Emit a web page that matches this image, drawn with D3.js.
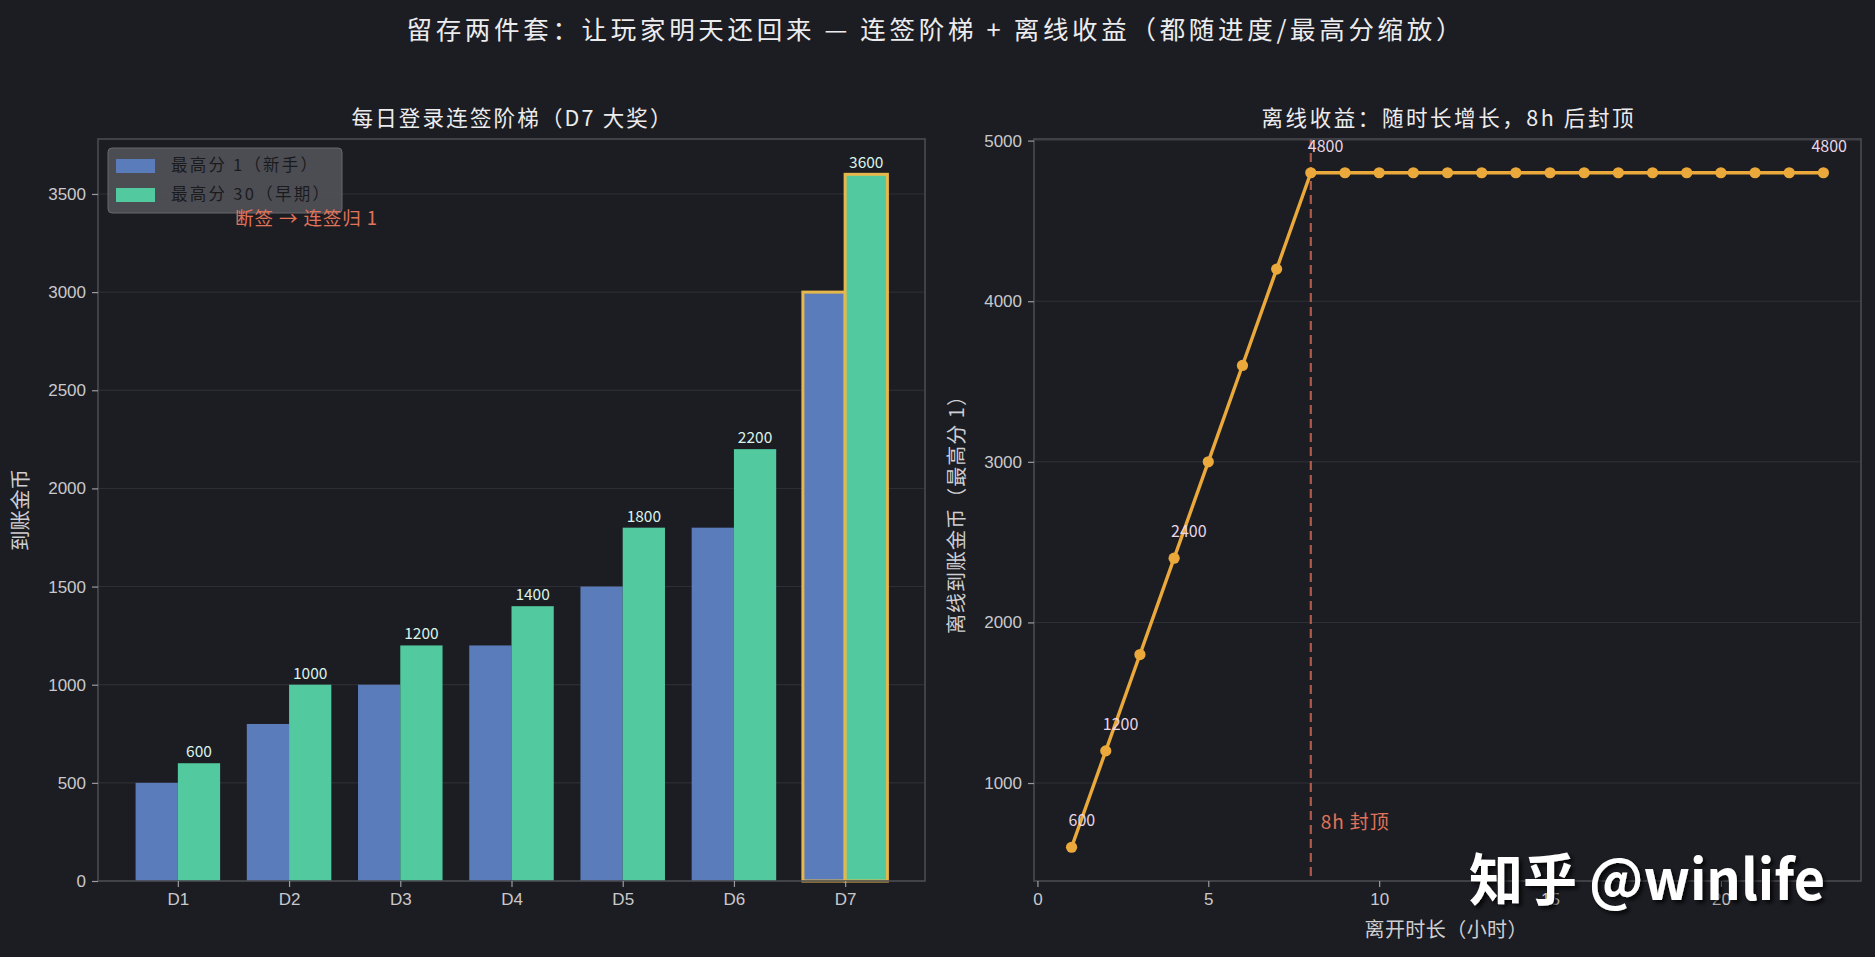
<!DOCTYPE html>
<html>
<head>
<meta charset="utf-8">
<script src="https://cdn.jsdelivr.net/npm/d3@7"></script>
<style>
  html, body { margin: 0; padding: 0; background: #1c1d23; }
  svg { display: block; font-family: "Noto Sans CJK SC", "Noto Sans", sans-serif; }
</style>
</head>
<body>
<script>
// data
const days = ["D1", "D2", "D3", "D4", "D5", "D6", "D7"];
const seriesNames = ["最高分 1（新手）", "最高分 30（早期）"];
const rewardNewbie = [500, 800, 1000, 1200, 1500, 1800, 3000];
const rewardEarly = [600, 1000, 1200, 1400, 1800, 2200, 3600];
const barTicks = [0, 500, 1000, 1500, 2000, 2500, 3000, 3500];

const hours = [1, 2, 3, 4, 5, 6, 7, 8, 9, 10, 11, 12, 13, 14, 15, 16, 17, 18, 19, 20, 21, 22, 23];
const offlineCoins = [600, 1200, 1800, 2400, 3000, 3600, 4200, 4800, 4800, 4800, 4800, 4800,
  4800, 4800, 4800, 4800, 4800, 4800, 4800, 4800, 4800, 4800, 4800];
const labeledHours = [1, 2, 4, 8, 23];
const capHour = 8;
const hourTicks = [0, 5, 10, 15, 20];
const coinTicks = [1000, 2000, 3000, 4000, 5000];

const width = 1875;
const height = 957;
const bg = "#1c1d23";
const gridColor = "#303138";
const spineColor = "#4a4b51";
const tickColor = "#c9c9cc";
const labelColor = "#cfcfd2";
const blue = "#5b7cba";
const green = "#52c99e";
const gold = "#e6b84c";
const orange = "#eaa93a";
const coral = "#e0735a";

const svg = d3.select("body").append("svg")
  .attr("width", width)
  .attr("height", height);

svg.append("rect").attr("width", width).attr("height", height).attr("fill", bg);

const defs = svg.append("defs");
defs.append("filter").attr("id", "shadow")
  .attr("x", "-10%").attr("y", "-20%").attr("width", "130%").attr("height", "150%")
  .append("feDropShadow")
  .attr("dx", 3).attr("dy", 3).attr("stdDeviation", 2)
  .attr("flood-color", "#000").attr("flood-opacity", 0.8);

// text helper: fixed width to follow the reference's wider CJK spacing
function label(x, y, str, size, color, opts = {}) {
  const t = svg.append("text")
    .attr("x", x).attr("y", y)
    .attr("text-anchor", opts.anchor || "start")
    .attr("fill", color)
    .attr("font-size", size)
    .text(str);
  if (opts.len) t.attr("textLength", opts.len).attr("lengthAdjust", "spacing");
  if (opts.rotate) t.attr("transform", `rotate(-90, ${x}, ${y})`);
  return t;
}

// main title
label(934, 39, "留存两件套：让玩家明天还回来 — 连签阶梯 + 离线收益（都随进度/最高分缩放）", 25.5, "#ececee",
  { anchor: "middle", len: 1055 });

const left = { x0: 98, x1: 925, y0: 139, y1: 881 };
const right = { x0: 1034, x1: 1861, y0: 139, y1: 881 };

function styleAxis(g) {
  g.select(".domain").remove();
  g.selectAll(".tick line").attr("stroke", "#9a9aa0").attr("stroke-width", 1.2);
  g.selectAll(".tick text").attr("fill", tickColor).attr("font-size", 17);
}

function frame(box) {
  svg.append("rect")
    .attr("x", box.x0).attr("y", box.y0)
    .attr("width", box.x1 - box.x0).attr("height", box.y1 - box.y0)
    .attr("fill", "none")
    .attr("stroke", spineColor)
    .attr("stroke-width", 1.6);
}

// ---------- LEFT: bar chart ----------
const xBar = d3.scaleLinear().domain([-0.718, 6.718]).range([left.x0, left.x1]);
const yBar = d3.scaleLinear().domain([0, 3780]).range([left.y1, left.y0]);
const barW = 0.38;

svg.append("g")
  .selectAll("line")
  .data(barTicks)
  .join("line")
  .attr("x1", left.x0).attr("x2", left.x1)
  .attr("y1", (d) => yBar(d)).attr("y2", (d) => yBar(d))
  .attr("stroke", gridColor).attr("stroke-width", 1);

const barData = [];
days.forEach((d, i) => {
  barData.push({ i, s: 0, v: rewardNewbie[i] });
  barData.push({ i, s: 1, v: rewardEarly[i] });
});

svg.append("g")
  .selectAll("rect")
  .data(barData)
  .join("rect")
  .attr("x", (d) => xBar(d.i + (d.s === 0 ? -barW : 0)))
  .attr("y", (d) => yBar(d.v))
  .attr("width", xBar(barW) - xBar(0))
  .attr("height", (d) => yBar(0) - yBar(d.v))
  .attr("fill", (d) => (d.s === 0 ? blue : green))
  .attr("stroke", (d) => (d.i === days.length - 1 ? gold : "none"))
  .attr("stroke-width", 3);

svg.append("g")
  .selectAll("text")
  .data(rewardEarly)
  .join("text")
  .attr("x", (d, i) => xBar(i + barW / 2))
  .attr("y", (d) => yBar(d) - 6)
  .attr("text-anchor", "middle")
  .attr("fill", "#d8f3e9")
  .attr("font-size", 15.5)
  .text((d) => d);

frame(left);

svg.append("g")
  .attr("transform", `translate(0, ${left.y1})`)
  .call(d3.axisBottom(xBar).tickValues(days.map((d, i) => i)).tickFormat((i) => days[i]).tickSize(6).tickPadding(6))
  .call(styleAxis);

svg.append("g")
  .attr("transform", `translate(${left.x0}, 0)`)
  .call(d3.axisLeft(yBar).tickValues(barTicks).tickFormat(d3.format("d")).tickSize(6).tickPadding(6))
  .call(styleAxis);

label((left.x0 + left.x1) / 2, 126, "每日登录连签阶梯（D7 大奖）", 21.5, "#ececee", { anchor: "middle", len: 320 });
label(28, (left.y0 + left.y1) / 2, "到账金币", 20.5, labelColor, { anchor: "middle", rotate: true });

// legend
const legend = svg.append("g");
legend.append("rect")
  .attr("x", 108).attr("y", 148).attr("width", 234).attr("height", 65)
  .attr("rx", 4)
  .attr("fill", "#55565c").attr("fill-opacity", 0.85)
  .attr("stroke", "#66676d").attr("stroke-width", 1);
seriesNames.forEach((name, k) => {
  legend.append("rect")
    .attr("x", 116).attr("y", 159 + k * 29).attr("width", 39).attr("height", 14)
    .attr("fill", k === 0 ? blue : green);
  legend.append("text")
    .attr("x", 171).attr("y", 171 + k * 29)
    .attr("fill", "#1b1b1e")
    .attr("font-size", 16.5)
    .attr("textLength", k === 0 ? 146 : 158)
    .attr("lengthAdjust", "spacing")
    .text(name);
});

label(235, 225, "断签 → 连签归 1", 18.5, coral, { len: 142 });

// ---------- RIGHT: offline line ----------
const xLine = d3.scaleLinear().domain([-0.1, 24.1]).range([right.x0, right.x1]);
const yLine = d3.scaleLinear().domain([390, 5010]).range([right.y1, right.y0]);

svg.append("g")
  .selectAll("line")
  .data(coinTicks)
  .join("line")
  .attr("x1", right.x0).attr("x2", right.x1)
  .attr("y1", (d) => yLine(d)).attr("y2", (d) => yLine(d))
  .attr("stroke", gridColor).attr("stroke-width", 1);

svg.append("line")
  .attr("x1", xLine(capHour)).attr("x2", xLine(capHour))
  .attr("y1", right.y0).attr("y2", right.y1)
  .attr("stroke", "#c0614f").attr("stroke-opacity", 0.9)
  .attr("stroke-width", 2.2)
  .attr("stroke-dasharray", "9,5");

const pts = hours.map((h, i) => ({ h, v: offlineCoins[i] }));

svg.append("path")
  .datum(pts)
  .attr("fill", "none")
  .attr("stroke", orange)
  .attr("stroke-width", 3.4)
  .attr("stroke-linejoin", "round")
  .attr("d", d3.line().x((d) => xLine(d.h)).y((d) => yLine(d.v)));

svg.append("g")
  .selectAll("circle")
  .data(pts)
  .join("circle")
  .attr("cx", (d) => xLine(d.h))
  .attr("cy", (d) => yLine(d.v))
  .attr("r", 5.6)
  .attr("fill", orange);

svg.append("g")
  .selectAll("text")
  .data(pts.filter((d) => labeledHours.includes(d.h)))
  .join("text")
  .attr("x", (d) => xLine(d.h) + (d.h === hours[hours.length - 1] ? -12 : -3))
  .attr("y", (d) => yLine(d.v) - 21)
  .attr("fill", "#e9d6e6")
  .attr("font-size", 16)
  .text((d) => d.v);

label(xLine(capHour) + 10, 829, "8h 封顶", 19, coral, { len: 68 });

frame(right);

svg.append("g")
  .attr("transform", `translate(0, ${right.y1})`)
  .call(d3.axisBottom(xLine).tickValues(hourTicks).tickSize(6).tickPadding(6))
  .call(styleAxis);

svg.append("g")
  .attr("transform", `translate(${right.x0}, 0)`)
  .call(d3.axisLeft(yLine).tickValues(coinTicks).tickFormat(d3.format("d")).tickSize(6).tickPadding(6))
  .call(styleAxis);

label((right.x0 + right.x1) / 2, 126, "离线收益：随时长增长，8h 后封顶", 21.5, "#ececee", { anchor: "middle", len: 372 });
label(964, (right.y0 + right.y1) / 2, "离线到账金币（最高分 1）", 20, labelColor, { anchor: "middle", rotate: true, len: 248 });
label(1446, 937, "离开时长（小时）", 20, labelColor, { anchor: "middle", len: 163 });

// watermark
svg.append("text")
  .attr("x", 1469).attr("y", 900)
  .attr("fill", "#ffffff")
  .attr("font-size", 56)
  .attr("font-weight", 700)
  .attr("textLength", 356)
  .attr("lengthAdjust", "spacingAndGlyphs")
  .attr("filter", "url(#shadow)")
  .text("知乎 @winlife");
</script>
</body>
</html>
